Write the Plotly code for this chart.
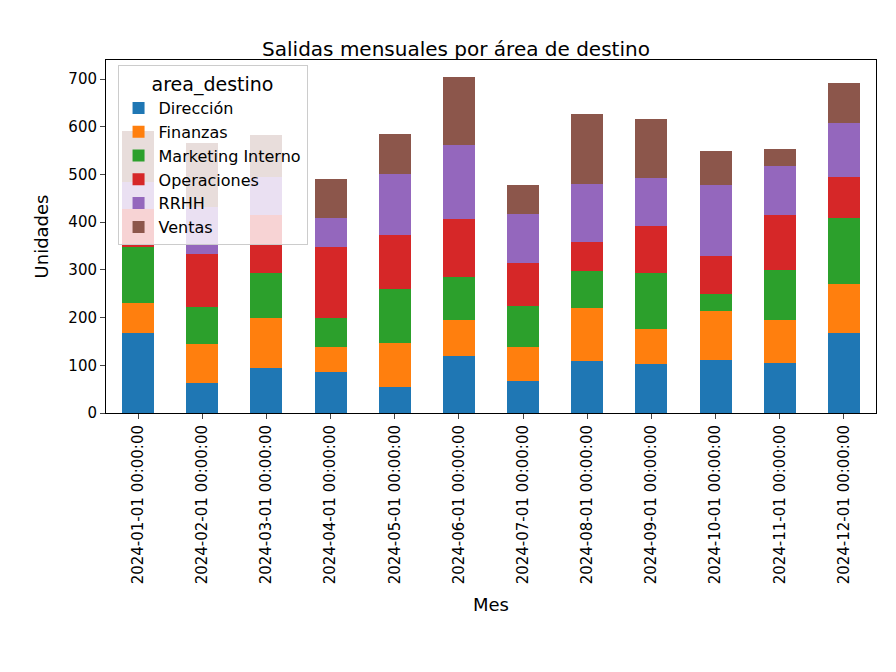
import plotly.graph_objects as go

meses = ["2024-%02d-01 00:00:00" % m for m in range(1, 13)]
areas = ["Dirección", "Finanzas", "Marketing Interno", "Operaciones", "RRHH", "Ventas"]
colores = ["#1f77b4", "#ff7f0e", "#2ca02c", "#d62728", "#9467bd", "#8c564b"]

# segment heights, per month
direccion = [167, 63, 95, 86, 55, 120, 67, 109, 103, 111, 105, 168]
finanzas = [64, 81, 105, 53, 92, 76, 72, 112, 74, 103, 91, 103]
marketing = [116, 79, 94, 61, 112, 90, 86, 77, 117, 36, 104, 137]
operaciones = [80, 110, 121, 147, 115, 120, 90, 61, 99, 80, 116, 86]
rrhh = [58, 98, 79, 61, 128, 155, 103, 122, 99, 149, 101, 113]
ventas = [106, 134, 88, 82, 82, 143, 59, 145, 124, 70, 36, 84]

series = [direccion, finanzas, marketing, operaciones, rrhh, ventas]

fig = go.Figure()
for nombre, vals, c in zip(areas, series, colores):
    fig.add_trace(go.Bar(x=meses, y=vals, name=nombre, marker_color=c,
                         marker_line_width=0))

fig.update_layout(
    barmode="stack",
    width=896, height=672,
    paper_bgcolor="white", plot_bgcolor="white",
    font=dict(family="DejaVu Sans", size=15, color="black"),
    title=dict(text="Salidas mensuales por área de destino", x=0.5, xanchor="center",
               y=0.95, font=dict(size=20)),
    margin=dict(l=98, r=28, t=52, b=267),
    legend=dict(title=dict(text="area_destino", side="top center"),
                traceorder="normal",
                x=0.015, y=0.985, xanchor="left", yanchor="top",
                bgcolor="rgba(255,255,255,0.8)", bordercolor="#cccccc", borderwidth=1,
                font=dict(size=16)),
    bargap=0.5,
)
fig.update_xaxes(type="category", title_text="Mes", tickangle=-90, showline=True,
                 linecolor="black", mirror=True, ticks="outside", ticklen=5,
                 showgrid=False, tickfont=dict(size=15))
fig.update_yaxes(title_text="Unidades", range=[0, 740], dtick=100, showline=True,
                 linecolor="black", mirror=True, ticks="outside", ticklen=5,
                 showgrid=False, zeroline=False)

fig.write_html("out.html")
